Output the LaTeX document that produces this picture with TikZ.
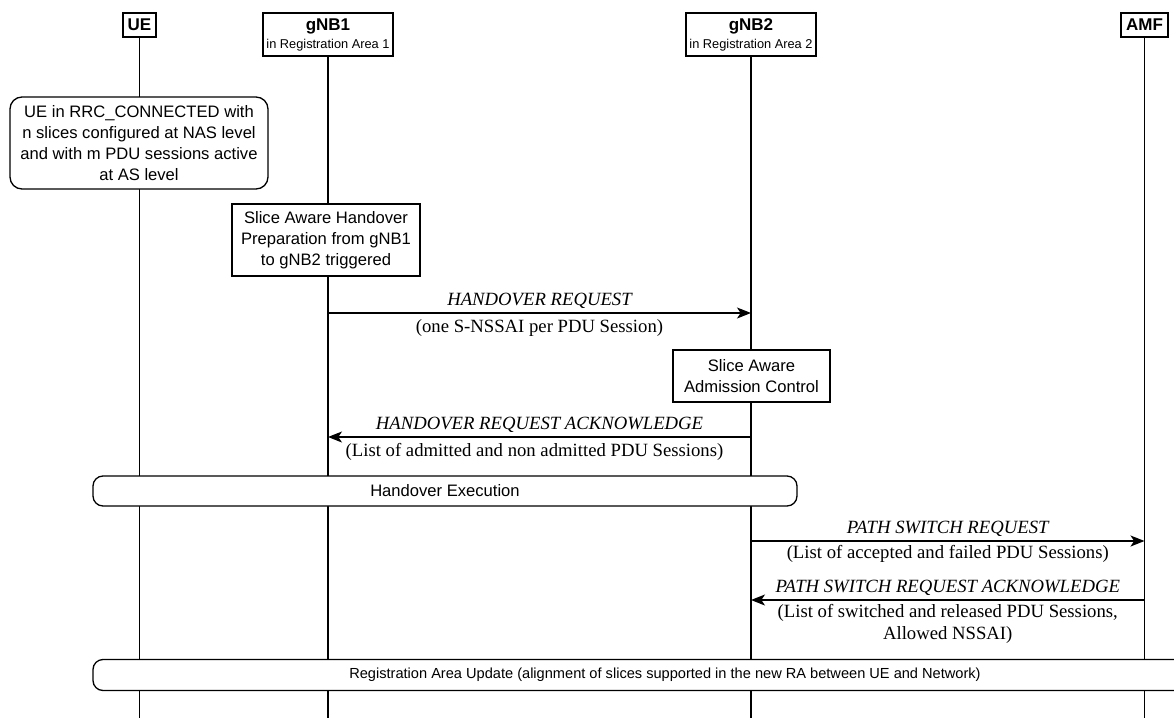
\documentclass[tikz,border=0pt]{standalone}
\usepackage{fontspec}
\setmainfont{Liberation Serif}
\setsansfont{Liberation Sans}
\usetikzlibrary{arrows.meta}

\tikzset{
  head/.style={draw, fill=white, line width=0.65pt, inner sep=0pt, align=center,
    font=\sffamily\fontsize{6.4}{9}\selectfont},
  life/.style={line width=0.65pt},
  note/.style={draw, fill=white, line width=0.65pt, inner sep=0pt, align=center,
    font=\sffamily\fontsize{8.3}{10.6}\selectfont},
  msg/.style={line width=0.65pt, -{Stealth[length=7pt, width=5.5pt, inset=1.8pt]}},
  msgname/.style={anchor=base, yshift=4pt, inner sep=0pt,
    font=\itshape\fontsize{9.35}{11}\selectfont},
  msgparam/.style={anchor=base, yshift=-9.5pt, inner sep=0pt, align=center,
    font=\fontsize{9.35}{11}\selectfont}
}

\begin{document}
\begin{tikzpicture}[x=0.5pt, y=-0.5pt]
    \useasboundingbox (0,0) rectangle (1174,718);

    % Entities
    \node[head, minimum width=16.5pt, minimum height=12pt] (ue) at (139.5,25)
        {\fontsize{8.5}{9}\selectfont\bfseries UE};
    \node[head, minimum width=65pt, minimum height=21.5pt] (gnb1) at (328,34.5)
        {{\fontsize{8.5}{9}\selectfont\bfseries gNB1}\\in Registration Area 1};
    \node[head, minimum width=65pt, minimum height=21.5pt] (gnb2) at (751,34.5)
        {{\fontsize{8.5}{9}\selectfont\bfseries gNB2}\\in Registration Area 2};
    \node[head, minimum width=23.5pt, minimum height=12pt] (amf) at (1144.5,25)
        {\fontsize{8.5}{9}\selectfont\bfseries AMF};

    % Lifelines
    \coordinate (bot) at (0,718);
    \draw[life] (ue.south) -- (ue |- bot);
    \draw[life] (gnb1.south) -- (gnb1 |- bot);
    \draw[life] (gnb2.south) -- (gnb2 |- bot);
    \draw[life] (amf.south) -- (amf |- bot);

    % Notes
    \node[note, rounded corners=6pt, minimum width=129pt, minimum height=46pt] (uestate) at (139,143)
        {UE in RRC\_CONNECTED with\\n slices configured at NAS level\\and with m PDU sessions active\\at AS level};
    \node[note, minimum width=94pt, minimum height=36pt] (hoprep) at (326,240)
        {Slice Aware Handover\\Preparation from gNB1\\to gNB2 triggered};
    \node[note, minimum width=78.5pt, minimum height=26pt] (admctl) at (751.5,376)
        {Slice Aware\\Admission Control};

    % Messages
    \coordinate (m1) at (0,313);
    \coordinate (m2) at (0,437);
    \coordinate (m3) at (0,541);
    \coordinate (m4) at (0,600);

    \draw[msg] (gnb1 |- m1) -- node[msgname] (horeq) {HANDOVER REQUEST}
        node[msgparam] (horeqp) {(one S-NSSAI per PDU Session)} (gnb2 |- m1);
    \draw[msg] (gnb2 |- m2) -- node[msgname] (hoack) {HANDOVER REQUEST ACKNOWLEDGE}
        node[msgparam, xshift=-2.5pt] (hoackp) {(List of admitted and non admitted PDU Sessions)} (gnb1 |- m2);

    \node[note, rounded corners=5pt, minimum width=352pt, minimum height=15pt] (hoexec) at (445,491)
        {Handover Execution};

    \draw[msg] (gnb2 |- m3) -- node[msgname] (psreq) {PATH SWITCH REQUEST}
        node[msgparam, yshift=1pt] (psreqp) {(List of accepted and failed PDU Sessions)} (amf |- m3);
    \draw[msg] (amf |- m4) -- node[msgname] (psack) {PATH SWITCH REQUEST ACKNOWLEDGE}
        node[msgparam, yshift=-10pt] (psackp) {(List of switched and released PDU Sessions,\\Allowed NSSAI)} (gnb2 |- m4);

    \node[note, rounded corners=5pt, minimum width=572pt, minimum height=15.5pt,
        font=\sffamily\fontsize{7.3}{9}\selectfont] (raupd) at (665,675)
        {Registration Area Update (alignment of slices supported in the new RA between UE and Network)};
\end{tikzpicture}
\end{document}
